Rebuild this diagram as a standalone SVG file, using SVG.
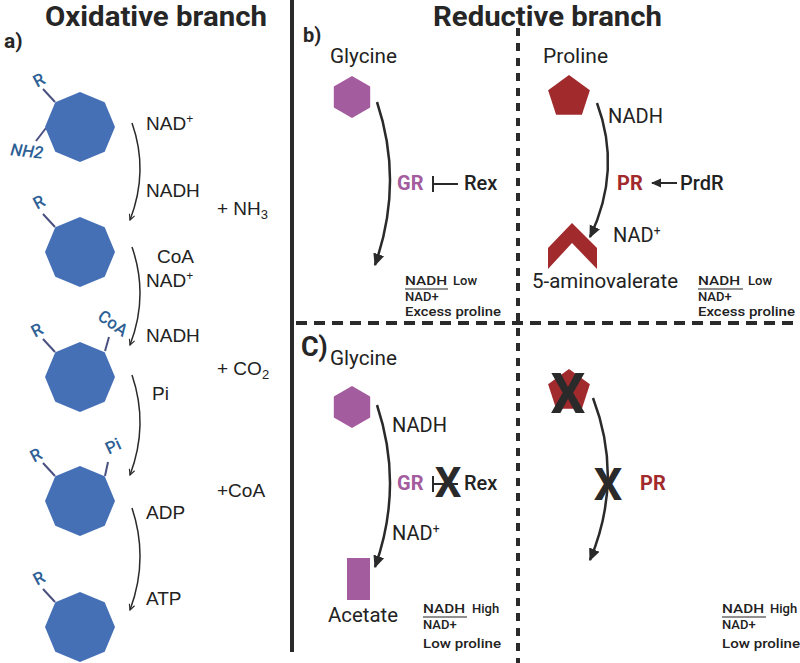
<svg xmlns="http://www.w3.org/2000/svg" width="800" height="663" viewBox="0 0 800 663">
<style>
.l{font-family:"Liberation Sans",Arial,sans-serif;fill:#222;font-size:19px}
.r{font-family:Roboto,"Liberation Sans",sans-serif;fill:#222;font-size:20px}
.title{font-family:Roboto,"Liberation Sans",sans-serif;font-weight:bold;font-size:28px;fill:#262626}
.lab{font-family:Roboto,"Liberation Sans",sans-serif;font-weight:bold;fill:#262626}
.small{font-family:Roboto,"Liberation Sans",sans-serif;font-weight:500;font-size:13px;fill:#222}
.sub{font-family:Roboto,"Liberation Sans",sans-serif;fill:#2e5f95;font-size:17px;font-weight:500}
.oct{fill:#4570b6}
.gly{fill:#a35c9e}
.pro{fill:#a12a2d}
.bond{stroke:#4a5080;stroke-width:2;fill:none}
.thin{stroke:#2a2a2a;stroke-width:1.5;fill:none}
.thick{stroke:#2a2a2a;stroke-width:2.5;fill:none}
.x{font-family:Roboto,"Liberation Sans",sans-serif;font-weight:bold;fill:#2a2a2a;text-anchor:middle}
</style>
<defs>
<marker id="vh" viewBox="0 0 10 10" refX="9" refY="5" markerWidth="7" markerHeight="7" orient="auto" markerUnits="userSpaceOnUse">
<path d="M1,1 L9,5 L1,9" fill="none" stroke="#2a2a2a" stroke-width="1.6"/>
</marker>
<marker id="fh" viewBox="0 0 10 10" refX="9" refY="5" markerWidth="5" markerHeight="5" orient="auto">
<path d="M0,0.5 L10,5 L0,9.5 Z" fill="#2a2a2a"/>
</marker>
<polygon id="octo" points="0,-35 24.7,-24.7 35,0 24.7,24.7 0,35 -24.7,24.7 -35,0 -24.7,-24.7"/>
<polygon id="hexa" points="0,-21 18.2,-10.5 18.2,10.5 0,21 -18.2,10.5 -18.2,-10.5"/>
<polygon id="penta" points="0,-22 20.9,-6.8 12.9,17.8 -12.9,17.8 -20.9,-6.8"/>
</defs>
<rect width="800" height="663" fill="#ffffff"/>

<g id="frame">
<line x1="292" y1="0" x2="292" y2="652" stroke="#2a2a2a" stroke-width="4"/>
<line x1="518" y1="28" x2="518" y2="663" stroke="#2a2a2a" stroke-width="4" stroke-dasharray="8 7"/>
<line x1="296" y1="323" x2="800" y2="323" stroke="#2a2a2a" stroke-width="4" stroke-dasharray="11 7"/>
</g>

<g id="titles">
<text class="title" x="45" y="26" textLength="222" lengthAdjust="spacingAndGlyphs">Oxidative branch</text>
<text class="title" x="433" y="26" textLength="229" lengthAdjust="spacingAndGlyphs">Reductive branch</text>
<text class="lab" x="4" y="48" font-size="21">a)</text>
<text class="lab" x="303" y="42" font-size="20">b)</text>
<text class="lab" x="301" y="356" font-size="27">C)</text>
</g>

<!-- Oxidative branch nodes -->
<g id="ox1">
<line class="bond" x1="55" y1="102" x2="43" y2="89"/>
<line class="bond" x1="46" y1="128" x2="36" y2="141"/>
<use href="#octo" class="oct" x="80" y="127"/>
<text class="sub" x="39" y="86" text-anchor="middle" transform="rotate(-28 39 80)">R</text>
<text class="sub" x="27" y="157" text-anchor="middle" font-style="italic" transform="rotate(6 27 151)">NH2</text>
</g>
<g id="ox2">
<line class="bond" x1="55" y1="227" x2="43" y2="214"/>
<use href="#octo" class="oct" x="80" y="252"/>
<text class="sub" x="39" y="208" text-anchor="middle" transform="rotate(-28 39 202)">R</text>
</g>
<g id="ox3">
<line class="bond" x1="55" y1="352" x2="43" y2="339"/>
<line class="bond" x1="105" y1="351" x2="109" y2="337"/>
<use href="#octo" class="oct" x="80" y="377"/>
<text class="sub" x="37" y="336" text-anchor="middle" transform="rotate(-28 37 330)">R</text>
<text class="sub" x="113" y="329" text-anchor="middle" transform="rotate(35 113 323)">CoA</text>
</g>
<g id="ox4">
<line class="bond" x1="55" y1="476" x2="43" y2="463"/>
<line class="bond" x1="105" y1="476" x2="108" y2="462"/>
<use href="#octo" class="oct" x="80" y="501"/>
<text class="sub" x="36" y="461" text-anchor="middle" transform="rotate(-28 36 455)">R</text>
<text class="sub" x="113" y="452" text-anchor="middle" transform="rotate(-25 113 446)">Pi</text>
</g>
<g id="ox5">
<line class="bond" x1="55" y1="602" x2="43" y2="589"/>
<use href="#octo" class="oct" x="80" y="627"/>
<text class="sub" x="39" y="584" text-anchor="middle" transform="rotate(-28 39 578)">R</text>
</g>

<g id="ox-labels">
<text class="l" x="146" y="130">NAD<tspan font-size="12" dy="-7">+</tspan></text>
<text class="l" x="146" y="197">NADH</text>
<text class="l" x="217" y="215">+ NH<tspan font-size="13" dy="4">3</tspan></text>
<text class="l" x="157" y="263">CoA</text>
<text class="l" x="146" y="287">NAD<tspan font-size="12" dy="-7">+</tspan></text>
<text class="l" x="146" y="342">NADH</text>
<text class="l" x="217" y="375">+ CO<tspan font-size="13" dy="4">2</tspan></text>
<text class="l" x="152" y="400">Pi</text>
<text class="l" x="217" y="497">+CoA</text>
<text class="l" x="146" y="519">ADP</text>
<text class="l" x="146" y="605">ATP</text>
</g>

<!-- Reductive b) -->
<g id="b-glycine">
<text class="r" x="330" y="63" textLength="67" lengthAdjust="spacingAndGlyphs">Glycine</text>
<use href="#hexa" class="gly" x="352" y="97"/>
</g>
<g id="b-gr">
<text class="lab" x="397" y="190" font-size="20" style="fill:#a35c9e">GR</text>
</g>
<g id="b-rex">
<text class="r" x="464" y="190" font-weight="500">Rex</text>
</g>
<g id="b-glycine-ratio">
<text class="small" x="405" y="285" textLength="42" lengthAdjust="spacingAndGlyphs">NADH</text>
<text class="small" x="453" y="285">Low</text>
<line x1="405" y1="289" x2="448" y2="289" stroke="#222" stroke-width="1.2"/>
<text class="small" x="405" y="301">NAD+</text>
<text class="small" x="405" y="316" textLength="96" lengthAdjust="spacingAndGlyphs">Excess proline</text>
</g>
<g id="b-proline">
<text class="r" x="543" y="63" textLength="65" lengthAdjust="spacingAndGlyphs">Proline</text>
<use href="#penta" class="pro" x="569" y="97"/>
</g>
<g id="b-pr-labels">
<text class="r" x="608" y="123" textLength="55" lengthAdjust="spacingAndGlyphs">NADH</text>
<text class="lab" x="617" y="190" font-size="20" style="fill:#a12a2d">PR</text>
<text class="r" x="680" y="190" font-weight="500">PrdR</text>
<text class="r" x="613" y="242">NAD<tspan font-size="12" dy="-7">+</tspan></text>
</g>
<g id="b-aminovalerate">
<polygon class="pro" points="548,248 572,223 597,248 597,269 572,243 548,269"/>
<text class="r" x="532" y="288" textLength="146" lengthAdjust="spacingAndGlyphs">5-aminovalerate</text>
</g>
<g id="b-proline-ratio">
<text class="small" x="698" y="285" textLength="42" lengthAdjust="spacingAndGlyphs">NADH</text>
<text class="small" x="748" y="285">Low</text>
<line x1="698" y1="289" x2="743" y2="289" stroke="#222" stroke-width="1.2"/>
<text class="small" x="698" y="301">NAD+</text>
<text class="small" x="698" y="316" textLength="97" lengthAdjust="spacingAndGlyphs">Excess proline</text>
</g>

<!-- Reductive c) -->
<g id="c-glycine">
<text class="r" x="330" y="365" textLength="67" lengthAdjust="spacingAndGlyphs">Glycine</text>
<use href="#hexa" class="gly" x="352" y="407"/>
</g>
<g id="c-labels">
<text class="r" x="392" y="432" textLength="55" lengthAdjust="spacingAndGlyphs">NADH</text>
<text class="lab" x="397" y="490" font-size="20" style="fill:#a35c9e">GR</text>
<text class="r" x="464" y="490" font-weight="500">Rex</text>
<text class="r" x="392" y="540">NAD<tspan font-size="12" dy="-7">+</tspan></text>
</g>
<g id="c-acetate">
<rect class="gly" x="347" y="558" width="23" height="42"/>
<text class="r" x="328" y="622" textLength="70" lengthAdjust="spacingAndGlyphs">Acetate</text>
</g>
<g id="c-glycine-ratio">
<text class="small" x="423" y="613" textLength="42" lengthAdjust="spacingAndGlyphs">NADH</text>
<text class="small" x="472" y="613">High</text>
<line x1="423" y1="617" x2="467" y2="617" stroke="#222" stroke-width="1.2"/>
<text class="small" x="423" y="629">NAD+</text>
<text class="small" x="423" y="648" textLength="78" lengthAdjust="spacingAndGlyphs">Low proline</text>
</g>
<g id="c-proline">
<use href="#penta" class="pro" x="569" y="391"/>
<text class="x" x="568" y="413" font-size="55">X</text>
</g>
<g id="c-pr">
<text class="lab" x="640" y="490" font-size="20" style="fill:#a12a2d">PR</text>
</g>
<g id="c-proline-ratio">
<text class="small" x="722" y="613" textLength="42" lengthAdjust="spacingAndGlyphs">NADH</text>
<text class="small" x="770" y="613">High</text>
<line x1="722" y1="617" x2="766" y2="617" stroke="#222" stroke-width="1.2"/>
<text class="small" x="722" y="629">NAD+</text>
<text class="small" x="722" y="648" textLength="78" lengthAdjust="spacingAndGlyphs">Low proline</text>
</g>

<g id="connectors">
<path class="thin" d="M132,123 Q149,171 130,220" marker-end="url(#vh)"/>
<path class="thin" d="M132,247 Q149,296 130,345" marker-end="url(#vh)"/>
<path class="thin" d="M132,375 Q149,425 130,475" marker-end="url(#vh)"/>
<path class="thin" d="M132,508 Q149,559 130,610" marker-end="url(#vh)"/>
<path class="thick" d="M377,102 Q404,183 375,265" marker-end="url(#fh)"/>
<path class="thick" d="M597,103 Q622,170 590,237" marker-end="url(#fh)"/>
<path class="thick" d="M377,405 Q404,486 375,567" marker-end="url(#fh)"/>
<path class="thick" d="M593,398 Q624,479 590,560" marker-end="url(#fh)"/>
<line x1="433" y1="176" x2="433" y2="192" stroke="#2a2a2a" stroke-width="2"/>
<line x1="433" y1="184" x2="458" y2="184" stroke="#2a2a2a" stroke-width="2"/>
<line x1="433" y1="476" x2="433" y2="492" stroke="#2a2a2a" stroke-width="2"/>
<line x1="433" y1="484" x2="458" y2="484" stroke="#2a2a2a" stroke-width="2"/>
<line x1="677" y1="183" x2="652" y2="183" stroke="#2a2a2a" stroke-width="2" marker-end="url(#fh)"/>
<text class="x" x="448" y="497" font-size="42">X</text>
<text class="x" x="608" y="500" font-size="45">X</text>
</g>
</svg>
